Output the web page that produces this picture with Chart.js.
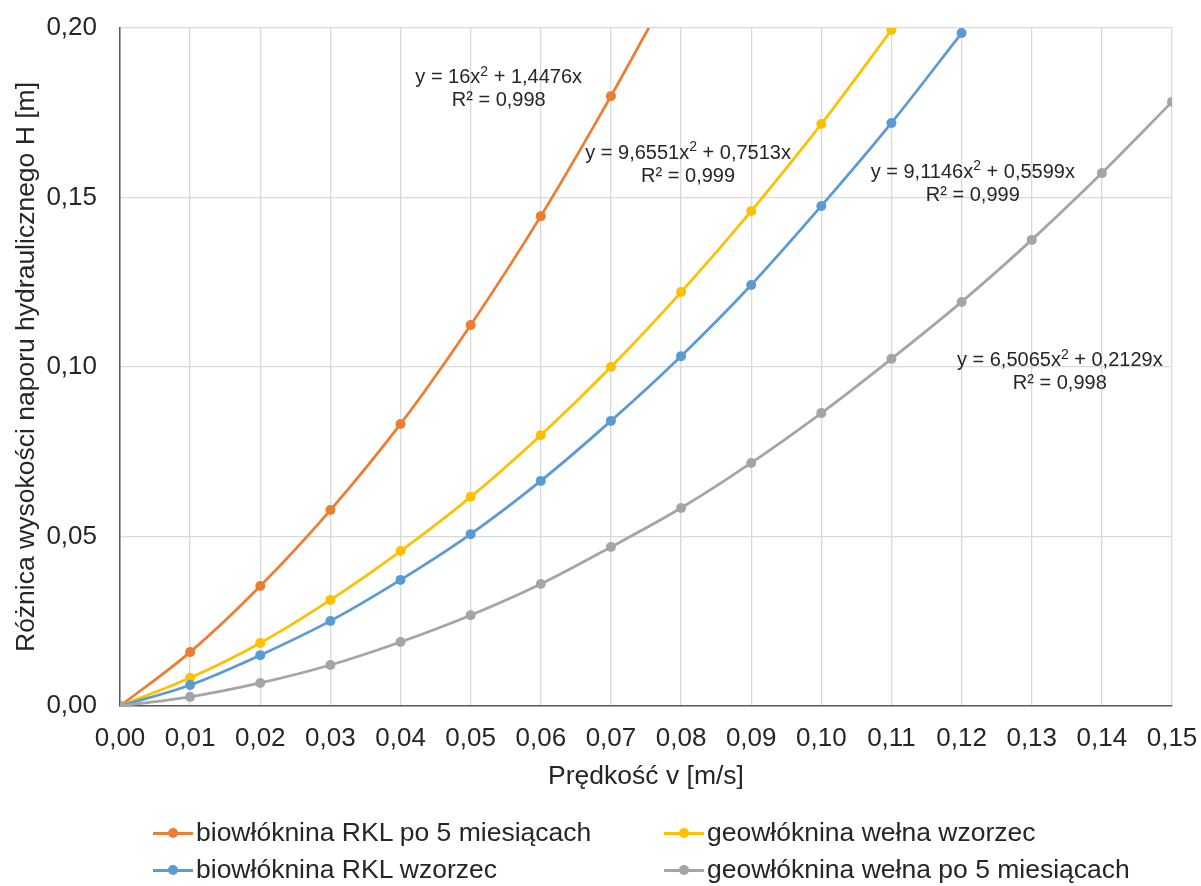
<!DOCTYPE html>
<html>
<head>
<meta charset="utf-8">
<script src="https://cdn.jsdelivr.net/npm/chart.js@4"></script>
<style>
  html, body { margin: 0; padding: 0; background: #fff; }
  #wrap { position: relative; width: 1201px; height: 886px; }
  #legend { position: absolute; left: 0; top: 0; width: 1201px; height: 886px; pointer-events: none;
            font-family: "Liberation Sans", Arial, sans-serif; font-size: 26.5px; color: #262626; }
  .item { position: absolute; display: flex; align-items: center; white-space: nowrap; }
  .mark { position: relative; width: 40px; height: 10px; margin-right: 3px; }
  .mark .ln { position: absolute; left: 0; right: 0; top: 4px; height: 3px; }
  .mark .dt { position: absolute; left: 15px; top: 0; width: 10px; height: 10px; border-radius: 50%; }
</style>
</head>
<body>
<div id="wrap">
  <canvas id="chart" width="1201" height="886"></canvas>
  <div id="legend"></div>
</div>
<script>
// --- Data ---
const xValues = [0, 0.01, 0.02, 0.03, 0.04, 0.05, 0.06, 0.07, 0.08, 0.09, 0.10, 0.11, 0.12, 0.13, 0.14, 0.15];

const seriesNames = [
    'biowłóknina RKL po 5 miesiącach',
    'geowłóknina wełna wzorzec',
    'biowłóknina RKL wzorzec',
    'geowłóknina wełna po 5 miesiącach'
];
const seriesColors = ['#ED7D31', '#FFC000', '#5B9BD5', '#A5A5A5'];

const rklAfter = [0, 0.0159, 0.0354, 0.0578, 0.0832, 0.1124, 0.1445, 0.1799, 0.2175];
const woolRef = [0, 0.0083, 0.0186, 0.0313, 0.0457, 0.0617, 0.0799, 0.1000, 0.1221, 0.1460, 0.1717, 0.1994];
const rklRef = [0, 0.0062, 0.0150, 0.0251, 0.0372, 0.0507, 0.0664, 0.0841, 0.1032, 0.1242, 0.1475, 0.1720, 0.1985];
const woolAfter = [0, 0.0027, 0.0068, 0.0121, 0.0189, 0.0268, 0.0360, 0.0469, 0.0584, 0.0717, 0.0864, 0.1024, 0.1192, 0.1375, 0.1572, 0.1782];

const seriesValues = [rklAfter, woolRef, rklRef, woolAfter];

// trendline equations, anchored in data coordinates
const trendLines = ['y = 16x^2 + 1,4476x', 'y = 9,6551x^2 + 0,7513x', 'y = 9,1146x^2 + 0,5599x', 'y = 6,5065x^2 + 0,2129x'];
const trendR2 = ['R² = 0,998', 'R² = 0,999', 'R² = 0,999', 'R² = 0,998'];
const trendAnchorX = [0.054, 0.081, 0.1216, 0.134];
const trendAnchorY = [0.1853, 0.1631, 0.1575, 0.1018];

const FONT = '"Liberation Sans", Arial, sans-serif';
const TEXT = '#262626';

// --- Trendline label plugin ---
const trendLabels = {
    id: 'trendLabels',
    afterDatasetsDraw(chart) {
        const ctx = chart.ctx;
        const xs = chart.scales.x, ys = chart.scales.y;
        ctx.save();
        ctx.fillStyle = TEXT;
        ctx.textBaseline = 'middle';
        trendLines.forEach((eq, i) => {
            const cx = xs.getPixelForValue(trendAnchorX[i]);
            const cy = ys.getPixelForValue(trendAnchorY[i]);
            const parts = eq.split('^2');
            ctx.font = '20px ' + FONT;
            const w1 = ctx.measureText(parts[0]).width;
            const w3 = ctx.measureText(parts[1]).width;
            ctx.font = '14px ' + FONT;
            const w2 = ctx.measureText('2').width;
            const x = cx - (w1 + w2 + w3) / 2;
            ctx.textAlign = 'left';
            ctx.font = '20px ' + FONT;
            ctx.fillText(parts[0], x, cy);
            ctx.font = '14px ' + FONT;
            ctx.fillText('2', x + w1, cy - 6);
            ctx.font = '20px ' + FONT;
            ctx.fillText(parts[1], x + w1 + w2, cy);
            ctx.textAlign = 'center';
            ctx.fillText(trendR2[i], cx, cy + 23);
        });
        ctx.restore();
    }
};

// --- Chart ---
const datasets = seriesNames.map((name, i) => ({
    label: name,
    data: seriesValues[i].map((v, j) => ({ x: xValues[j], y: v })),
    borderColor: seriesColors[i],
    backgroundColor: seriesColors[i],
    pointBackgroundColor: seriesColors[i],
    pointBorderColor: seriesColors[i],
    borderWidth: 2.75,
    pointRadius: 5,
    pointBorderWidth: 0,
    cubicInterpolationMode: 'monotone',
    fill: false
})).reverse(); // last series drawn on top

const tickFmt = v => Number(v).toFixed(2).replace('.', ',');

new Chart(document.getElementById('chart').getContext('2d'), {
    type: 'line',
    data: { datasets },
    options: {
        responsive: false,
        animation: false,
        layout: { padding: { top: 0, right: 0, bottom: 93, left: 11 } },
        plugins: {
            legend: { display: false },
            tooltip: { enabled: false }
        },
        scales: {
            x: {
                type: 'linear',
                min: 0,
                max: 0.15,
                grid: { color: '#D9D9D9', lineWidth: 1.3, drawTicks: false },
                border: { color: '#595959', width: 1.5 },
                ticks: {
                    stepSize: 0.01,
                    padding: 17,
                    color: TEXT,
                    font: { family: FONT, size: 26 },
                    maxRotation: 0,
                    callback: tickFmt
                },
                title: {
                    display: true,
                    text: 'Prędkość v [m/s]',
                    color: TEXT,
                    font: { family: FONT, size: 26.5 },
                    padding: 0
                },
                afterFit(s) {
                    s.height = 87;
                    s.paddingLeft = 0;
                    s.paddingRight = 29;
                }
            },
            y: {
                min: 0,
                max: 0.2,
                grid: { color: '#D9D9D9', lineWidth: 1.3, drawTicks: false },
                border: { color: '#595959', width: 1.5 },
                ticks: {
                    stepSize: 0.05,
                    padding: 23,
                    color: TEXT,
                    font: { family: FONT, size: 26 },
                    callback: tickFmt
                },
                title: {
                    display: true,
                    text: 'Różnica wysokości naporu hydraulicznego H [m]',
                    color: TEXT,
                    font: { family: FONT, size: 26.5 },
                    padding: 0
                },
                afterFit(s) {
                    s.width = 109;
                    s.paddingTop = 28;
                    s.paddingBottom = 0;
                }
            }
        }
    },
    plugins: [trendLabels]
});

// --- Legend (two columns, as in the original) ---
const legendEl = document.getElementById('legend');
const legendPos = [[153, 833], [664, 833], [153, 870], [664, 870]];
seriesNames.forEach((name, i) => {
    const item = document.createElement('div');
    item.className = 'item';
    item.style.left = legendPos[i][0] + 'px';
    item.style.top = (legendPos[i][1] - 16) + 'px';
    item.innerHTML = `<span class="mark"><span class="ln" style="background:${seriesColors[i]}"></span>` +
        `<span class="dt" style="background:${seriesColors[i]}"></span></span><span>${name}</span>`;
    legendEl.appendChild(item);
});
</script>
</body>
</html>
